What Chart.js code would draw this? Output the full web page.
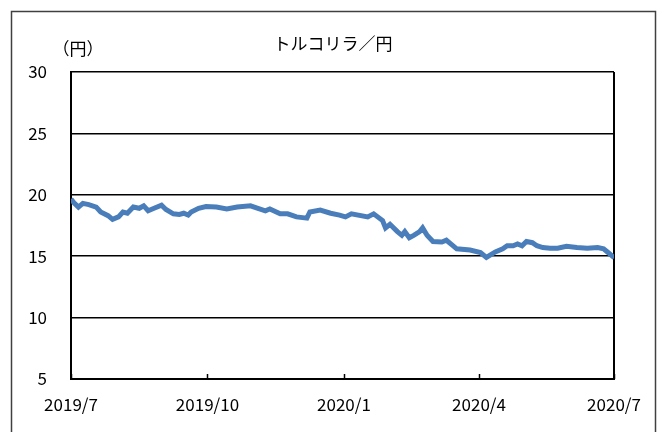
<!DOCTYPE html>
<html>
<head>
<meta charset="utf-8">
<script src="https://cdn.jsdelivr.net/npm/chart.js@4/dist/chart.umd.min.js"></script>
<style>
  html, body { margin: 0; padding: 0; background: #fff; }
</style>
</head>
<body>
<canvas id="tryChart" width="667" height="432"></canvas>
<script>
// days since 2019/7/1 and TRY/JPY rate
const dayOffsets = [0, 2, 5, 8, 12, 17, 20, 25, 28, 32, 35, 38, 42, 46, 49, 52, 56, 61, 64, 69,
  73, 76, 79, 81, 86, 91, 98, 105, 112, 121, 126, 131, 134, 141, 146, 152, 159, 161, 168, 175,
  181, 185, 189, 200, 204, 210, 212, 215, 220, 223, 225, 228, 231, 235, 237, 240, 244, 250, 253, 257,
  260, 269, 276, 280, 286, 291, 294, 298, 301, 304, 307, 311, 314, 318, 323, 328, 334, 341, 348, 355,
  359, 362, 365, 366];
const tryJpy = [19.65, 19.35, 19.0, 19.3, 19.2, 19.0, 18.6, 18.3, 18.0, 18.2, 18.6, 18.5, 19.0, 18.9, 19.1, 18.7, 18.9, 19.15, 18.8, 18.45,
  18.4, 18.5, 18.35, 18.6, 18.9, 19.05, 19.0, 18.85, 19.0, 19.1, 18.9, 18.7, 18.85, 18.45, 18.45, 18.2, 18.1, 18.6, 18.75, 18.5,
  18.35, 18.2, 18.45, 18.2, 18.45, 17.9, 17.3, 17.6, 17.0, 16.7, 17.0, 16.5, 16.7, 17.0, 17.3, 16.7, 16.2, 16.15, 16.3, 15.9,
  15.6, 15.5, 15.3, 14.9, 15.35, 15.6, 15.85, 15.85, 16.0, 15.85, 16.2, 16.1, 15.85, 15.7, 15.65, 15.65, 15.8, 15.7, 15.65, 15.7,
  15.6, 15.3, 15.0, 15.1];

const tickDays = [0, 92, 184, 275, 366];
const tickLabels = ['2019/7', '2019/10', '2020/1', '2020/4', '2020/7'];
const yMin = 5;
const yMax = 30;
const yStep = 5;

const FONT = '"Noto Sans CJK JP", "Liberation Sans", sans-serif';

const decor = {
  id: 'decor',
  beforeDatasetsDraw(chart) {
    const { ctx, chartArea: a } = chart;
    ctx.save();
    ctx.strokeStyle = '#000';
    ctx.lineWidth = 2;
    ctx.beginPath();
    ctx.moveTo(a.right, a.top);
    ctx.lineTo(a.right, a.bottom);
    ctx.stroke();
    // small tick marks pointing into the plot
    const xs = chart.scales.x;
    ctx.lineWidth = 1.5;
    tickDays.forEach(d => {
      const px = Math.round(xs.getPixelForValue(d)) + 0.5;
      ctx.beginPath();
      ctx.moveTo(px, a.bottom);
      ctx.lineTo(px, a.bottom - 5);
      ctx.stroke();
    });
    ctx.restore();
  },
  afterDraw(chart) {
    const { ctx } = chart;
    ctx.save();
    ctx.strokeStyle = '#404040';
    ctx.lineWidth = 1.5;
    ctx.strokeRect(11.5, 11.5, 644, 440);
    ctx.fillStyle = '#000';
    ctx.textBaseline = 'middle';
    ctx.textAlign = 'center';
    ctx.font = '17px ' + FONT;
    ctx.fillText('トルコリラ／円', 333, 44);
    ctx.fillText('（円）', 78, 49);
    ctx.restore();
  }
};

new Chart(document.getElementById('tryChart'), {
  type: 'line',
  data: {
    datasets: [{
      label: 'トルコリラ／円',
      data: dayOffsets.map((d, i) => ({ x: d, y: tryJpy[i] })),
      borderColor: '#4a7ebb',
      borderWidth: 5,
      pointRadius: 0,
      tension: 0,
      fill: false
    }]
  },
  options: {
    responsive: false,
    animation: false,
    layout: { padding: { top: 72, right: 53, left: 0, bottom: 0 } },
    plugins: {
      legend: { display: false },
      title: { display: false },
      tooltip: { enabled: false }
    },
    scales: {
      x: {
        type: 'linear',
        min: 0,
        max: 366,
        afterBuildTicks: axis => { axis.ticks = tickDays.map(v => ({ value: v })); },
        afterFit: axis => { axis.height = 53; },
        grid: { display: false, drawTicks: false },
        border: { display: true, color: '#000', width: 2 },
        ticks: {
          autoSkip: false,
          maxRotation: 0,
          padding: 15,
          color: '#000',
          font: { family: FONT, size: 17 },
          callback: v => tickLabels[tickDays.indexOf(v)]
        }
      },
      y: {
        min: yMin,
        max: yMax,
        afterFit: axis => { axis.width = 71; },
        grid: { color: '#000', lineWidth: 1.5, drawTicks: false },
        border: { display: true, color: '#000', width: 2 },
        ticks: {
          stepSize: yStep,
          padding: 24,
          color: '#000',
          font: { family: FONT, size: 17 }
        }
      }
    }
  },
  plugins: [decor]
});
</script>
</body>
</html>
